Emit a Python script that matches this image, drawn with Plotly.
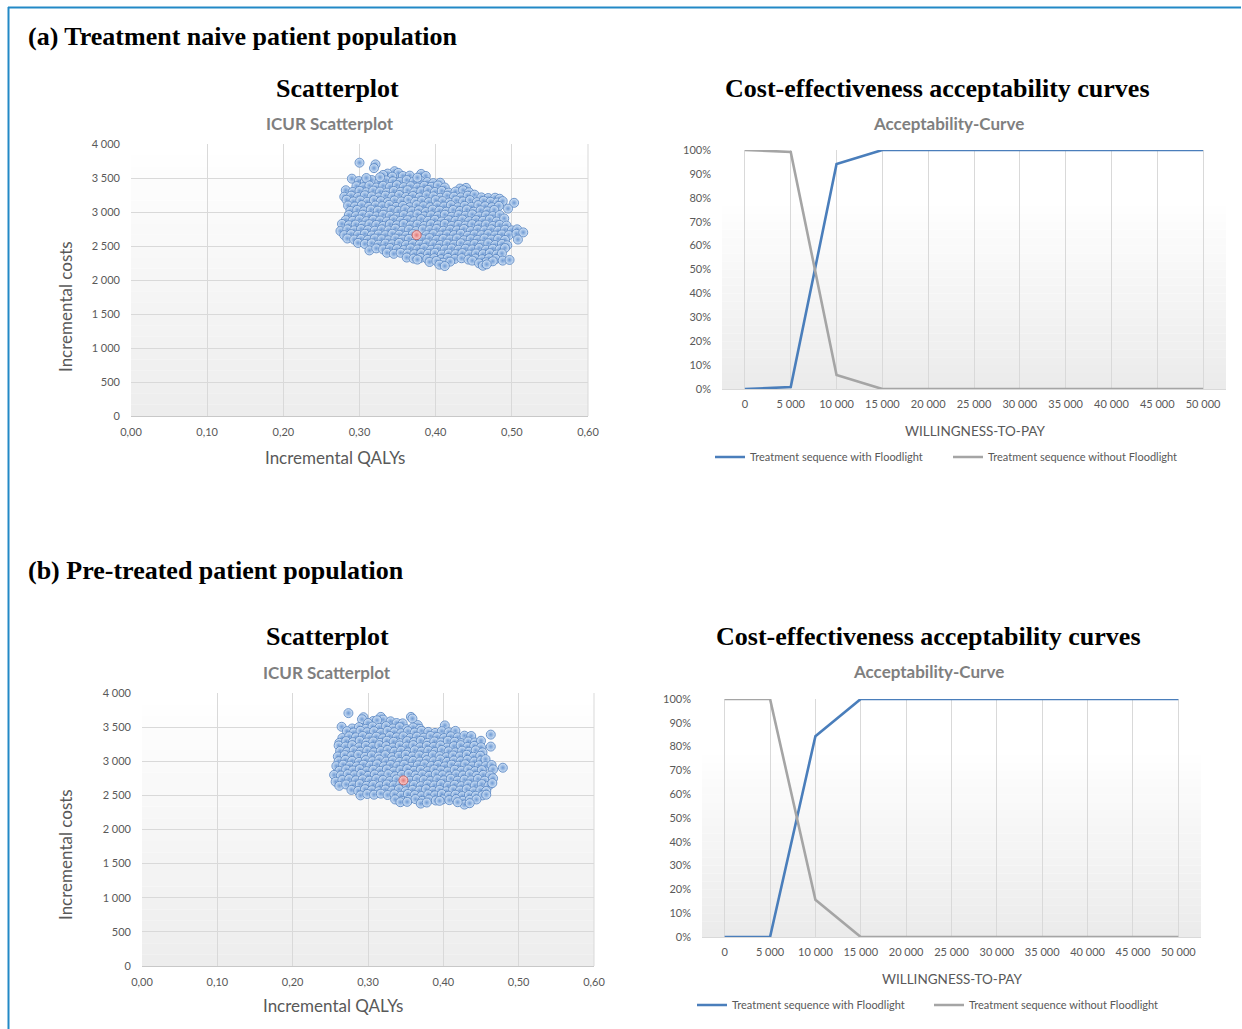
import plotly.graph_objects as go

W, H = 1242, 1029

# ---------------- DATA ----------------
# (a) Treatment naive: PSA iterations (incremental QALYs, incremental costs)
pts_a = [
    (0.300,3725),(0.321,3700),(0.319,3645),(0.346,3600),(0.337,3565),(0.351,3575),(0.381,3560),(0.387,3530),
    (0.290,3490),(0.331,3545),(0.357,3530),(0.366,3535),(0.343,3520),
    (0.299,3455),(0.307,3445),(0.316,3470),(0.326,3440),(0.335,3465),(0.344,3450),(0.353,3440),(0.362,3470),
    (0.371,3445),(0.380,3460),(0.389,3440),(0.397,3425),(0.406,3430),(0.309,3500),(0.327,3510),(0.376,3505),
    (0.296,3380),(0.305,3365),(0.313,3390),(0.322,3360),(0.331,3385),(0.340,3370),(0.349,3395),(0.358,3365),
    (0.367,3380),(0.376,3360),(0.385,3385),(0.394,3370),(0.403,3390),(0.412,3360),(0.432,3345),(0.440,3355),
    (0.282,3320),(0.291,3295),(0.300,3310),(0.309,3290),(0.318,3315),(0.327,3300),(0.336,3285),(0.345,3310),
    (0.354,3295),(0.363,3320),(0.372,3290),(0.381,3305),(0.390,3325),(0.399,3295),(0.408,3310),(0.417,3285),
    (0.426,3300),(0.436,3320),(0.444,3290),
    (0.280,3225),(0.289,3240),(0.298,3220),(0.307,3245),(0.316,3230),(0.325,3215),(0.334,3240),(0.343,3225),
    (0.352,3250),(0.361,3220),(0.370,3235),(0.379,3215),(0.388,3245),(0.397,3230),(0.406,3210),(0.415,3240),
    (0.424,3225),(0.433,3215),(0.442,3240),(0.451,3255),(0.460,3215),(0.469,3205),(0.478,3210),(0.484,3195),
    (0.283,3180),(0.292,3155),(0.301,3170),(0.310,3150),(0.319,3175),(0.328,3160),(0.337,3145),(0.346,3170),
    (0.355,3155),(0.364,3180),(0.373,3150),(0.382,3165),(0.391,3145),(0.400,3175),(0.409,3160),(0.418,3140),
    (0.427,3170),(0.436,3155),(0.445,3175),(0.454,3145),(0.463,3165),(0.472,3150),(0.481,3140),(0.488,3160),
    (0.503,3135),
    (0.285,3095),(0.294,3080),(0.303,3100),(0.312,3075),(0.321,3095),(0.330,3085),(0.339,3105),(0.348,3075),
    (0.357,3090),(0.366,3070),(0.375,3100),(0.384,3085),(0.393,3070),(0.402,3095),(0.411,3080),(0.420,3100),
    (0.429,3070),(0.438,3090),(0.447,3075),(0.456,3100),(0.465,3085),(0.474,3070),(0.483,3090),
    (0.288,3015),(0.297,3030),(0.306,3010),(0.315,3035),(0.324,3020),(0.333,3005),(0.342,3030),(0.351,3015),
    (0.360,3040),(0.369,3010),(0.378,3025),(0.387,3000),(0.396,3035),(0.405,3020),(0.414,3005),(0.423,3030),
    (0.432,3015),(0.441,3035),(0.450,3005),(0.459,3025),(0.468,3010),(0.477,3030),(0.495,3050),
    (0.286,2955),(0.295,2940),(0.304,2960),(0.313,2945),(0.322,2935),(0.331,2960),(0.340,2945),(0.349,2930),
    (0.358,2955),(0.367,2940),(0.376,2965),(0.385,2935),(0.394,2950),(0.403,2940),(0.412,2960),(0.421,2930),
    (0.430,2955),(0.439,2945),(0.448,2965),(0.457,2935),(0.466,2950),(0.475,2940),(0.484,2955),
    (0.282,2880),(0.291,2870),(0.300,2890),(0.309,2865),(0.318,2885),(0.327,2875),(0.336,2860),(0.345,2890),
    (0.354,2870),(0.363,2880),(0.372,2865),(0.381,2895),(0.390,2870),(0.399,2885),(0.408,2860),(0.417,2880),
    (0.426,2870),(0.435,2890),(0.444,2865),(0.453,2880),(0.462,2870),(0.471,2890),(0.480,2860),(0.490,2905),
    (0.277,2825),(0.286,2805),(0.295,2815),(0.304,2800),(0.313,2820),(0.322,2810),(0.331,2795),(0.340,2820),
    (0.349,2805),(0.358,2825),(0.367,2800),(0.376,2815),(0.385,2795),(0.394,2820),(0.403,2805),(0.412,2825),
    (0.421,2795),(0.430,2810),(0.439,2800),(0.448,2820),(0.457,2805),(0.466,2815),(0.475,2795),(0.484,2810),
    (0.493,2800),
    (0.275,2720),(0.284,2745),(0.293,2730),(0.302,2750),(0.311,2735),(0.320,2725),(0.329,2745),(0.338,2730),
    (0.347,2755),(0.356,2725),(0.365,2740),(0.374,2720),(0.383,2745),(0.392,2735),(0.401,2750),(0.410,2725),
    (0.419,2740),(0.428,2730),(0.437,2750),(0.446,2720),(0.455,2740),(0.464,2730),(0.473,2745),(0.482,2725),
    (0.491,2740),(0.500,2730),(0.507,2745),
    (0.280,2660),(0.289,2675),(0.298,2665),(0.307,2680),(0.316,2655),(0.325,2670),(0.334,2660),(0.343,2680),
    (0.352,2665),(0.361,2650),(0.370,2675),(0.388,2660),(0.397,2675),(0.406,2655),(0.415,2670),(0.424,2660),
    (0.433,2680),(0.442,2650),(0.451,2670),(0.460,2660),(0.469,2675),(0.478,2655),(0.487,2670),(0.496,2660),
    (0.506,2680),(0.515,2700),
    (0.284,2610),(0.293,2595),(0.302,2605),(0.311,2590),(0.320,2610),(0.329,2600),(0.338,2585),(0.347,2610),
    (0.356,2595),(0.365,2605),(0.374,2585),(0.383,2600),(0.392,2615),(0.401,2590),(0.410,2605),(0.419,2595),
    (0.428,2610),(0.437,2585),(0.446,2600),(0.455,2590),(0.464,2610),(0.473,2595),(0.482,2605),(0.491,2590),
    (0.508,2595),
    (0.298,2545),(0.307,2530),(0.316,2540),(0.325,2520),(0.334,2535),(0.343,2525),(0.352,2545),(0.361,2515),
    (0.370,2530),(0.379,2520),(0.388,2540),(0.397,2525),(0.406,2515),(0.415,2535),(0.424,2520),(0.433,2540),
    (0.442,2515),(0.451,2530),(0.460,2520),(0.469,2540),(0.478,2515),(0.487,2530),(0.494,2510),
    (0.313,2435),(0.322,2465),(0.331,2450),(0.340,2470),(0.349,2455),(0.358,2440),(0.367,2465),(0.376,2450),
    (0.385,2470),(0.394,2445),(0.403,2460),(0.412,2450),(0.421,2465),(0.430,2445),(0.439,2460),(0.448,2450),
    (0.457,2470),(0.466,2445),(0.475,2460),(0.484,2450),(0.491,2470),
    (0.336,2400),(0.345,2385),(0.354,2400),(0.363,2390),(0.372,2380),(0.381,2395),(0.390,2385),(0.399,2400),
    (0.408,2375),(0.417,2390),(0.426,2380),(0.435,2395),(0.444,2375),(0.453,2390),(0.462,2380),(0.471,2395),
    (0.480,2375),(0.487,2390),
    (0.362,2330),(0.371,2315),(0.380,2325),(0.389,2310),(0.398,2320),(0.407,2305),(0.416,2325),(0.425,2310),
    (0.434,2320),(0.443,2300),(0.452,2315),(0.461,2305),(0.470,2320),(0.479,2310),
    (0.376,2300),(0.392,2265),(0.401,2280),(0.410,2255),(0.419,2270),(0.448,2285),(0.466,2260),(0.475,2275),
    (0.488,2285),(0.497,2295),(0.457,2245),
    (0.405,2225),(0.412,2205),(0.462,2210),(0.467,2230),
]
qaly_a = [p[0] for p in pts_a]
cost_a = [p[1] for p in pts_a]
mean_qaly_a = [0.375]
mean_cost_a = [2660]

# (b) Pre-treated
pts_b = [
    (0.274,3705),(0.294,3645),(0.292,3615),(0.317,3650),(0.320,3610),(0.357,3650),(0.359,3625),(0.330,3585),
    (0.338,3560),(0.346,3555),(0.307,3590),(0.265,3505),(0.402,3525),(0.366,3530),(0.300,3560),(0.312,3600),
    (0.279,3480),(0.288,3500),(0.297,3475),(0.306,3510),(0.315,3490),(0.324,3515),(0.333,3480),(0.342,3500),
    (0.351,3470),(0.360,3495),(0.369,3475),
    (0.272,3440),(0.281,3420),(0.290,3445),(0.299,3425),(0.308,3440),(0.317,3415),(0.326,3445),(0.335,3425),
    (0.344,3410),(0.353,3440),(0.362,3420),(0.371,3445),(0.380,3430),(0.389,3415),(0.398,3440),(0.407,3425),
    (0.416,3445),
    (0.266,3340),(0.275,3365),(0.284,3350),(0.293,3370),(0.302,3345),(0.311,3360),(0.320,3335),(0.329,3370),
    (0.338,3350),(0.347,3365),(0.356,3340),(0.365,3360),(0.374,3345),(0.383,3370),(0.392,3355),(0.401,3340),
    (0.410,3365),(0.419,3350),(0.428,3375),(0.437,3370),
    (0.262,3270),(0.271,3295),(0.280,3280),(0.289,3300),(0.298,3275),(0.307,3290),(0.316,3270),(0.325,3300),
    (0.334,3285),(0.343,3265),(0.352,3295),(0.361,3280),(0.370,3300),(0.379,3270),(0.388,3290),(0.397,3275),
    (0.406,3300),(0.415,3285),(0.424,3265),(0.433,3290),(0.442,3275),(0.450,3300),(0.463,3390),
    (0.261,3230),(0.270,3215),(0.279,3235),(0.288,3205),(0.297,3225),(0.306,3210),(0.315,3235),(0.324,3220),
    (0.333,3200),(0.342,3230),(0.351,3215),(0.360,3235),(0.369,3205),(0.378,3225),(0.387,3210),(0.396,3230),
    (0.405,3200),(0.414,3220),(0.423,3235),(0.432,3210),(0.441,3225),(0.450,3205),(0.463,3215),
    (0.263,3150),(0.272,3135),(0.281,3160),(0.290,3140),(0.299,3155),(0.308,3130),(0.317,3150),(0.326,3165),
    (0.335,3140),(0.344,3155),(0.353,3130),(0.362,3160),(0.371,3140),(0.380,3155),(0.389,3135),(0.398,3165),
    (0.407,3145),(0.416,3130),(0.425,3155),(0.434,3140),(0.443,3160),(0.452,3130),
    (0.260,3070),(0.269,3090),(0.278,3075),(0.287,3095),(0.296,3065),(0.305,3085),(0.314,3070),(0.323,3090),
    (0.332,3060),(0.341,3080),(0.350,3095),(0.359,3070),(0.368,3085),(0.377,3065),(0.386,3090),(0.395,3075),
    (0.404,3060),(0.413,3085),(0.422,3070),(0.431,3095),(0.440,3065),(0.449,3080),
    (0.261,3000),(0.270,3020),(0.279,3005),(0.288,2990),(0.297,3015),(0.306,3000),(0.315,3025),(0.324,2995),
    (0.333,3010),(0.342,2990),(0.351,3020),(0.360,3005),(0.369,2995),(0.378,3015),(0.387,3000),(0.396,3025),
    (0.405,2990),(0.414,3010),(0.423,3000),(0.432,3020),(0.441,2995),(0.450,3010),(0.456,3030),
    (0.258,2930),(0.267,2950),(0.276,2935),(0.285,2925),(0.294,2950),(0.303,2935),(0.312,2955),(0.321,2925),
    (0.330,2945),(0.339,2930),(0.348,2950),(0.357,2920),(0.366,2940),(0.375,2955),(0.384,2930),(0.393,2945),
    (0.402,2925),(0.411,2950),(0.420,2935),(0.429,2955),(0.438,2925),(0.447,2940),(0.456,2930),(0.464,2945),
    (0.262,2860),(0.271,2880),(0.280,2865),(0.289,2885),(0.298,2855),(0.307,2875),(0.316,2860),(0.325,2880),
    (0.334,2850),(0.343,2870),(0.352,2885),(0.361,2860),(0.370,2875),(0.379,2855),(0.388,2880),(0.397,2865),
    (0.406,2850),(0.415,2875),(0.424,2860),(0.433,2880),(0.442,2855),(0.451,2870),(0.466,2880),(0.479,2905),
    (0.255,2800),(0.264,2790),(0.273,2810),(0.282,2795),(0.291,2815),(0.300,2785),(0.309,2805),(0.318,2790),
    (0.327,2810),(0.336,2780),(0.345,2800),(0.354,2815),(0.363,2790),(0.372,2805),(0.381,2785),(0.390,2810),
    (0.399,2795),(0.408,2780),(0.417,2805),(0.426,2790),(0.435,2810),(0.444,2785),(0.453,2800),(0.462,2790),
    (0.257,2700),(0.266,2725),(0.275,2740),(0.284,2720),(0.293,2735),(0.302,2715),(0.311,2740),(0.320,2725),
    (0.329,2710),(0.338,2735),(0.356,2715),(0.365,2740),(0.374,2725),(0.383,2710),(0.392,2735),(0.401,2720),
    (0.410,2745),(0.419,2715),(0.428,2730),(0.437,2720),(0.446,2740),(0.455,2715),(0.466,2750),
    (0.262,2640),(0.271,2660),(0.280,2645),(0.289,2665),(0.298,2640),(0.307,2655),(0.316,2635),(0.325,2660),
    (0.334,2645),(0.343,2665),(0.352,2640),(0.361,2655),(0.370,2635),(0.379,2660),(0.388,2645),(0.397,2665),
    (0.406,2640),(0.415,2655),(0.424,2635),(0.433,2660),(0.442,2645),(0.451,2665),(0.460,2640),(0.465,2680),
    (0.278,2580),(0.287,2565),(0.296,2590),(0.305,2575),(0.314,2560),(0.323,2585),(0.332,2570),(0.341,2590),
    (0.350,2560),(0.359,2580),(0.368,2570),(0.377,2590),(0.386,2565),(0.395,2580),(0.404,2560),(0.413,2585),
    (0.422,2570),(0.431,2590),(0.440,2560),(0.449,2575),(0.457,2565),
    (0.290,2500),(0.299,2520),(0.308,2510),(0.317,2525),(0.326,2505),(0.335,2515),(0.344,2495),(0.353,2520),
    (0.362,2505),(0.371,2490),(0.380,2515),(0.389,2500),(0.398,2520),(0.407,2495),(0.416,2510),(0.425,2490),
    (0.434,2505),(0.443,2495),(0.452,2500),(0.457,2510),
    (0.336,2440),(0.345,2420),(0.354,2435),(0.363,2445),(0.372,2420),(0.381,2440),(0.390,2425),(0.399,2440),
    (0.408,2430),(0.417,2445),(0.426,2420),(0.435,2435),(0.444,2440),
    (0.343,2400),(0.352,2405),(0.370,2380),(0.378,2395),(0.395,2420),(0.428,2365),(0.435,2385),(0.419,2400),
]
qaly_b = [p[0] for p in pts_b]
cost_b = [p[1] for p in pts_b]
mean_qaly_b = [0.347]
mean_cost_b = [2720]

# CEAC
wtp = [0, 5000, 10000, 15000, 20000, 25000, 30000, 35000, 40000, 45000, 50000]
with_a = [0.0, 0.008, 0.941, 1, 1, 1, 1, 1, 1, 1, 1]
without_a = [1.0, 0.992, 0.059, 0, 0, 0, 0, 0, 0, 0, 0]
with_b = [0.0, 0.0, 0.844, 1, 1, 1, 1, 1, 1, 1, 1]
without_b = [1.0, 1.0, 0.156, 0, 0, 0, 0, 0, 0, 0, 0]

name_with = "Treatment sequence with Floodlight"
name_without = "Treatment sequence without Floodlight"

# ---------------- STYLE ----------------
BLUE = "#4a7ebb"
GRAY = "#a5a5a5"
TXT = "#595959"
GRID = "#d9d9d9"
SANS = "Lato, 'Liberation Sans', sans-serif"
SERIF = "'Liberation Serif', 'Times New Roman', serif"

def px_x(p):
    return p / W

def px_y(p):
    return 1 - p / H

fig = go.Figure()

marker_pts = dict(size=9, color="#d6e6f8",
                  gradient=dict(type="radial", color="#6e9ad4"),
                  line=dict(color="#4f7fbf", width=0.8))
marker_mean = dict(size=9, color="#fbd0d0",
                   gradient=dict(type="radial", color="#e07a7a"),
                   line=dict(color="#c0504d", width=0.8))

fig.add_trace(go.Scatter(x=qaly_a, y=cost_a, mode="markers", marker=marker_pts,
                         xaxis="x", yaxis="y", showlegend=False))
fig.add_trace(go.Scatter(x=mean_qaly_a, y=mean_cost_a, mode="markers", marker=marker_mean,
                         xaxis="x", yaxis="y", showlegend=False))
fig.add_trace(go.Scatter(x=qaly_b, y=cost_b, mode="markers", marker=marker_pts,
                         xaxis="x3", yaxis="y3", showlegend=False))
fig.add_trace(go.Scatter(x=mean_qaly_b, y=mean_cost_b, mode="markers", marker=marker_mean,
                         xaxis="x3", yaxis="y3", showlegend=False))

fig.add_trace(go.Scatter(x=wtp, y=with_a, mode="lines", name=name_with,
                         line=dict(color=BLUE, width=2.6), xaxis="x2", yaxis="y2",
                         legend="legend", cliponaxis=False))
fig.add_trace(go.Scatter(x=wtp, y=without_a, mode="lines", name=name_without,
                         line=dict(color=GRAY, width=2.6), xaxis="x2", yaxis="y2",
                         legend="legend2", cliponaxis=False))
fig.add_trace(go.Scatter(x=wtp, y=with_b, mode="lines", name=name_with,
                         line=dict(color=BLUE, width=2.6), xaxis="x4", yaxis="y4",
                         legend="legend3", cliponaxis=False))
fig.add_trace(go.Scatter(x=wtp, y=without_b, mode="lines", name=name_without,
                         line=dict(color=GRAY, width=2.6), xaxis="x4", yaxis="y4",
                         legend="legend4", cliponaxis=False))

tickfont = dict(family=SANS, size=11, color=TXT)

def scatter_axes(xd, yd, anchor_x, anchor_y):
    xa = dict(domain=xd, range=[0, 0.6], dtick=0.1, tick0=0, tickformat=".2f",
              showgrid=True, gridcolor=GRID, gridwidth=1, zeroline=False,
              showline=True, linecolor="#c8c8c8", mirror=False,
              ticks="", tickfont=tickfont, anchor=anchor_y, fixedrange=True,
              ticklabelstandoff=6, automargin=False)
    ya = dict(domain=yd, range=[0, 4000], dtick=500, tick0=0, tickformat=",d",
              showgrid=True, gridcolor=GRID, gridwidth=1, zeroline=False,
              showline=False, ticks="", tickfont=tickfont, anchor=anchor_x,
              fixedrange=True, ticklabelstandoff=10, automargin=False)
    return xa, ya

def ceac_axes(xd, yd, anchor_x, anchor_y):
    xa = dict(domain=xd, range=[-2500, 52500], tickvals=wtp, tickformat=",d",
              showgrid=True, gridcolor=GRID, gridwidth=1, zeroline=False,
              showline=True, linecolor=GRID, ticks="", tickfont=tickfont,
              anchor=anchor_y, fixedrange=True, ticklabelstandoff=5, automargin=False)
    ya = dict(domain=yd, range=[0, 1], dtick=0.1, tickformat=".0%",
              showgrid=False, zeroline=False, showline=False, ticks="",
              tickfont=tickfont, anchor=anchor_x, fixedrange=True,
              ticklabelstandoff=10, automargin=False)
    return xa, ya

xa1, ya1 = scatter_axes([px_x(131), px_x(588)], [px_y(416), px_y(144)], "x", "y")
xa2, ya2 = ceac_axes([px_x(722), px_x(1226)], [px_y(389), px_y(150)], "x2", "y2")
xa3, ya3 = scatter_axes([px_x(142), px_x(594)], [px_y(966), px_y(693)], "x3", "y3")
xa4, ya4 = ceac_axes([px_x(702), px_x(1201)], [px_y(937), px_y(699)], "x4", "y4")

shapes = []
# subtle vertical gradient backgrounds in each plot area
def gradient_bands(xref, yref, start, top_color, bottom_color, n=24):
    def hex2rgb(h):
        h = h.lstrip("#")
        return [int(h[i:i + 2], 16) for i in (0, 2, 4)]
    t, b = hex2rgb(top_color), hex2rgb(bottom_color)
    out = []
    for i in range(n):
        y0 = start * i / n
        y1 = start * (i + 1) / n
        f = 1 - (i + 0.5) / n
        c = [round(t[k] + (b[k] - t[k]) * f) for k in range(3)]
        out.append(dict(type="rect", xref=xref, yref=yref, x0=0, x1=1, y0=y0, y1=y1,
                        fillcolor="rgb(%d,%d,%d)" % tuple(c), line=dict(width=0),
                        layer="below"))
    return out

shapes += gradient_bands("x domain", "y domain", 1.0, "#ffffff", "#ededed")
shapes += gradient_bands("x2 domain", "y2 domain", 0.8, "#ffffff", "#ebebeb")
shapes += gradient_bands("x3 domain", "y3 domain", 1.0, "#ffffff", "#ededed")
shapes += gradient_bands("x4 domain", "y4 domain", 0.8, "#ffffff", "#ebebeb")
# right border gridline of scatter plot areas
for xr, yr in (("x domain", "y domain"), ("x3 domain", "y3 domain")):
    shapes.append(dict(type="line", xref=xr, yref=yr, x0=1, x1=1, y0=0, y1=1,
                       line=dict(color=GRID, width=1)))
# blue frame
shapes.append(dict(type="line", xref="paper", yref="paper", x0=px_x(8), x1=px_x(1241),
                   y0=px_y(7.5), y1=px_y(7.5), line=dict(color="#2389c6", width=2)))
shapes.append(dict(type="line", xref="paper", yref="paper", x0=px_x(8.5), x1=px_x(8.5),
                   y0=px_y(7), y1=0, line=dict(color="#2389c6", width=2)))

ann = []
def text(x, y, s, size, family=SANS, color=TXT, bold=False, xanchor="center", angle=0):
    ann.append(dict(x=px_x(x), y=px_y(y), xref="paper", yref="paper", text=("<b>%s</b>" % s) if bold else s,
                    showarrow=False, xanchor=xanchor, yanchor="middle", textangle=angle,
                    font=dict(family=family, size=size, color=color)))

# panel (a)
text(26, 37, "(a) Treatment naive patient population", 26, SERIF, "#000000", True, "left")
text(337, 88, "Scatterplot", 26, SERIF, "#000000", True)
text(937, 88, "Cost-effectiveness acceptability curves", 26, SERIF, "#000000", True)
text(330, 124, "ICUR Scatterplot", 17, SANS, "#7f7f7f", True)
text(949, 124, "Acceptability-Curve", 17, SANS, "#7f7f7f", True)
text(335, 458, "Incremental QALYs", 17)
text(65, 307, "Incremental costs", 17, angle=-90)
text(975, 431, "WILLINGNESS-TO-PAY", 13.5)
# panel (b)
text(26, 570, "(b) Pre-treated patient population", 26, SERIF, "#000000", True, "left")
text(327, 636, "Scatterplot", 26, SERIF, "#000000", True)
text(928, 636, "Cost-effectiveness acceptability curves", 26, SERIF, "#000000", True)
text(327, 672, "ICUR Scatterplot", 17, SANS, "#7f7f7f", True)
text(928, 671, "Acceptability-Curve", 17, SANS, "#7f7f7f", True)
text(333, 1005, "Incremental QALYs", 17)
text(65, 855, "Incremental costs", 17, angle=-90)
text(952, 979, "WILLINGNESS-TO-PAY", 13.5)

def leg(x, y):
    return dict(x=px_x(x), y=px_y(y), xanchor="left", yanchor="middle", orientation="h",
                bgcolor="rgba(0,0,0,0)", font=dict(family=SANS, size=11, color=TXT),
                itemwidth=30, tracegroupgap=0)

fig.update_layout(
    width=W, height=H, margin=dict(l=0, r=0, t=0, b=0, pad=0, autoexpand=False),
    paper_bgcolor="white", plot_bgcolor="white",
    separators=", ",
    xaxis=xa1, yaxis=ya1, xaxis2=xa2, yaxis2=ya2, xaxis3=xa3, yaxis3=ya3, xaxis4=xa4, yaxis4=ya4,
    shapes=shapes, annotations=ann,
    legend=leg(710, 457), legend2=leg(948, 457),
    legend3=leg(692, 1005), legend4=leg(929, 1005),
)

fig.write_html("out.html", config={"displayModeBar": False},
               post_script="document.body.style.margin='0px';document.body.style.overflow='hidden';")
